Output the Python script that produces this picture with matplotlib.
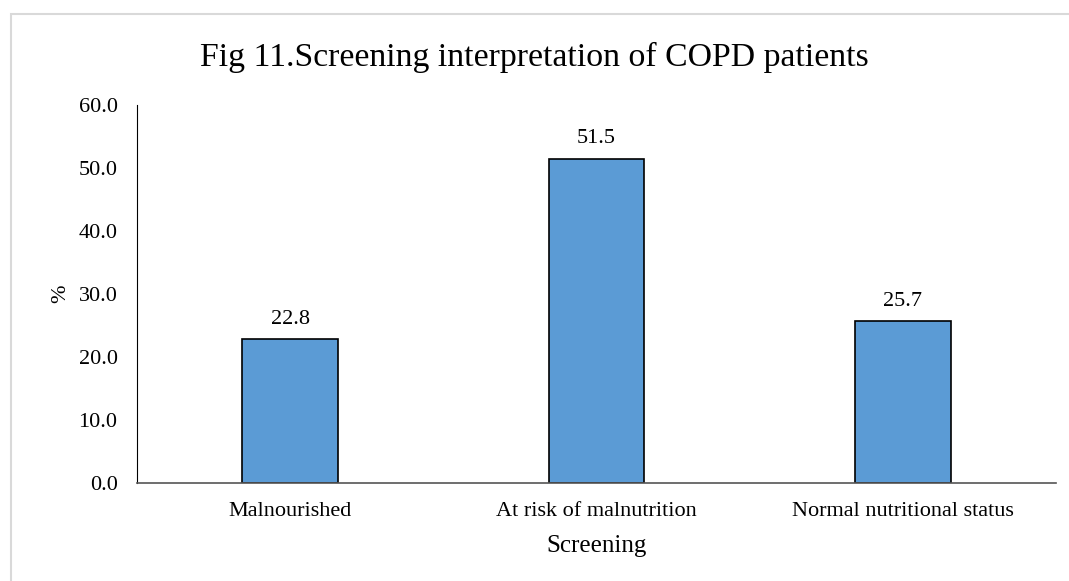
import matplotlib
matplotlib.use("Agg")
import matplotlib.pyplot as plt
from matplotlib.patches import Rectangle

categories = ["Malnourished", "At risk of malnutrition", "Normal nutritional status"]
percentages = [22.8, 51.5, 25.7]
y_ticks = [0, 10, 20, 30, 40, 50, 60]

plt.rcParams["font.family"] = ["Liberation Serif", "DejaVu Serif"]

W, H = 1069, 581
fig = plt.figure(figsize=(W / 100, H / 100), dpi=100)

# chart-area frame (top and left edges visible)
fig.patches.append(Rectangle((11 / W, -0.05), 1.2, 1 - 14 / H + 0.05,
                             transform=fig.transFigure, fill=False,
                             edgecolor="#d9d9d9", linewidth=1.5, zorder=0))

ax = fig.add_axes([137 / W, 1 - 483 / H, (1056 - 137) / W, (483 - 105) / H])
x = range(len(categories))
bars = ax.bar(x, percentages, width=0.313, color="#5b9bd5",
              edgecolor="black", linewidth=1.2, zorder=2)
for xi, v in zip(x, percentages):
    ax.annotate(f"{v:.1f}", (xi, v), xytext=(0, 11), textcoords="offset points",
                ha="center", va="baseline", fontsize=16)

ax.set_xlim(-0.5, len(categories) - 0.5)
ax.set_ylim(0, 60)
ax.set_yticks(y_ticks)
ax.set_yticklabels([f"{t:.1f}" for t in y_ticks], fontsize=16)
ax.set_xticks(list(x))
ax.set_xticklabels(categories, fontsize=16)
ax.tick_params(axis="y", length=0, pad=14)
ax.tick_params(axis="x", length=0, pad=14)
for s in ("top", "right"):
    ax.spines[s].set_visible(False)
ax.spines["left"].set_color("black")
ax.spines["bottom"].set_color("#555555")
ax.spines["bottom"].set_linewidth(1.2)

ax.set_ylabel("%", fontsize=16, labelpad=6)
ax.set_xlabel("Screening", fontsize=18, labelpad=10)
fig.text(0.5, 1 - 66 / H, "Fig 11.Screening interpretation of COPD patients",
         ha="center", va="baseline", fontsize=24.3)

fig.savefig("out.png", dpi=100)
